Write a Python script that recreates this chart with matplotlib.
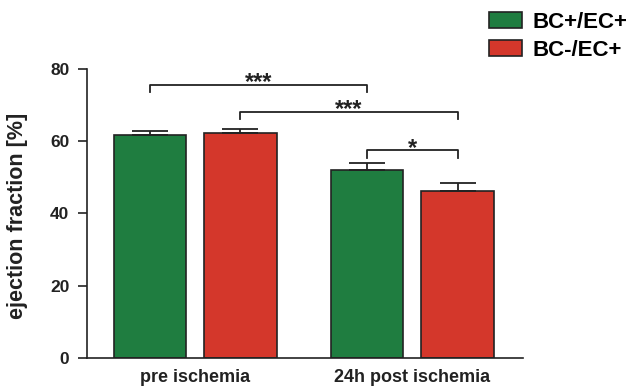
import numpy as np
import matplotlib
matplotlib.use("Agg")
from matplotlib import pyplot as plt
from matplotlib.patches import Patch

plt.rcParams["font.family"] = ["Liberation Sans", "DejaVu Sans"]
plt.rcParams["font.weight"] = "bold"

groups = ["pre ischemia", "24h post ischemia"]
series_names = ["BC+/EC+", "BC-/EC+"]
green_vals = [61.7, 51.9]
green_err = [1.0, 2.0]
red_vals = [62.4, 46.2]
red_err = [1.0, 2.1]

# significance brackets: (left bar, right bar, line height, label)
# bars numbered 0=green pre, 1=red pre, 2=green post, 3=red post
brackets = [(0, 2, 75.6, "***"), (1, 3, 68.2, "***"), (2, 3, 57.5, "*")]

green = "#1f7d40"
red = "#d4372b"
edge = "#222222"

fig = plt.figure(figsize=(6.28, 3.89), dpi=100)
ax = fig.add_axes([0.138, 0.0805, 0.6948, 0.7421])

x = np.arange(len(groups))
w = 0.333
off = 0.2084
ebar = dict(ecolor=edge, elinewidth=1.3, capsize=13, capthick=1.3)
ax.bar(x - off, green_vals, w, color=green, edgecolor=edge, linewidth=1.2,
       yerr=[np.zeros(2), green_err], error_kw=ebar, zorder=2)
ax.bar(x + off, red_vals, w, color=red, edgecolor=edge, linewidth=1.2,
       yerr=[np.zeros(2), red_err], error_kw=ebar, zorder=2)

centers = [x[0] - off, x[0] + off, x[1] - off, x[1] + off]
for a, b, h, lab in brackets:
    xa, xb = centers[a], centers[b]
    ax.plot([xa, xa, xb, xb], [h - 2.1, h, h, h - 2.1], color=edge, lw=1.3,
            clip_on=False)
    ax.text((xa + xb) / 2, h - 1.2, lab, ha="center", va="baseline",
            fontsize=17, fontweight="bold", color=edge)

ax.set_xlim(-0.5, 1.51)
ax.set_ylim(0, 80)
ax.set_yticks([0, 20, 40, 60, 80])
ax.set_xticks(x)
ax.set_xticklabels(groups, fontsize=13, fontweight="bold", color=edge)
ax.tick_params(axis="x", length=0, pad=8)
ax.tick_params(axis="y", length=6.5, width=1.2, pad=6, labelsize=12.5,
               color=edge, labelcolor=edge)
for s in ["top", "right"]:
    ax.spines[s].set_visible(False)
for s in ["left", "bottom"]:
    ax.spines[s].set_linewidth(1.2)
    ax.spines[s].set_color(edge)
ax.set_ylabel("ejection fraction [%]", fontsize=15.5, fontweight="bold",
              color=edge)
ax.yaxis.set_label_coords(-0.134, 0.49)

handles = [Patch(facecolor=green, edgecolor=edge, linewidth=1.2),
           Patch(facecolor=red, edgecolor=edge, linewidth=1.2)]
fig.legend(handles, series_names, loc="upper left",
           bbox_to_anchor=(489.3 / 628, 1 - 12 / 389), frameon=False,
           borderpad=0, borderaxespad=0,
           handlelength=1.45, handleheight=0.74, handletextpad=0.5,
           labelspacing=0.3, prop={"weight": "bold", "size": 16})

fig.savefig("out.png", dpi=100)
